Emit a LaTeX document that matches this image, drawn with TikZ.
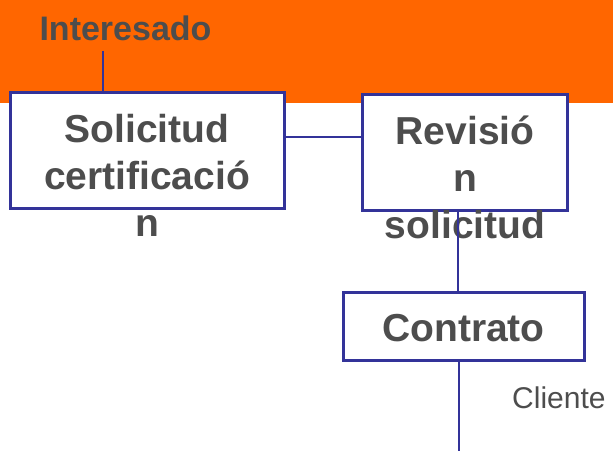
\documentclass[tikz,border=0pt]{standalone}
\usepackage{fontspec}
\setmainfont{Liberation Sans}
\definecolor{bandorange}{HTML}{FF6600}
\definecolor{boxblue}{HTML}{333399}
\definecolor{txtgray}{HTML}{4D4D4D}
\tikzset{
  procbox/.style={draw=boxblue, line width=3pt, fill=white, inner sep=0pt, minimum width=#1},
  boxtext/.style={text=txtgray, font=\fontsize{39}{47}\selectfont\bfseries, align=center, inner sep=0pt, anchor=base},
  conn/.style={draw=boxblue, line width=1.5pt}
}
\begin{document}
\begin{tikzpicture}[x=1pt,y=-1pt]
\useasboundingbox (0,0) rectangle (613,451);
\fill[bandorange] (0,0) rectangle (613,103);
\node[text=txtgray, font=\fontsize{34}{40}\selectfont\bfseries, inner sep=0pt, anchor=base] (interesado) at (125.5,40) {Interesado};
\coordinate (intfoot) at (103,51);
\node[procbox=274pt, minimum height=116pt] (box1) at (147,150) {};
\node[procbox=205pt, minimum height=116pt] (box2) at (464.5,152) {};
\node[procbox=241pt, minimum height=68pt] (box3) at (463.5,326) {};
\node[boxtext] (t1) at (147,236) {Solicitud\\certificació\\n};
\node[boxtext] (t2) at (465,238) {Revisió\\n\\solicitud};
\node[boxtext] (t3) at (463.5,341) {Contrato};
\node[text=txtgray, font=\fontsize{30}{36}\selectfont, inner sep=0pt, anchor=base west] (cliente) at (512,408) {Cliente};
\coordinate (bottomend) at (459,451);
\draw[conn] (intfoot) -- (intfoot |- box1.north);
\draw[conn] (box1.east |- 0,137) -- (box2.west |- 0,137);
\draw[conn] (box2.south -| 458,0) -- (box3.north -| 458,0);
\draw[conn] (box3.south -| 459,0) -- (bottomend);
\end{tikzpicture}
\end{document}
